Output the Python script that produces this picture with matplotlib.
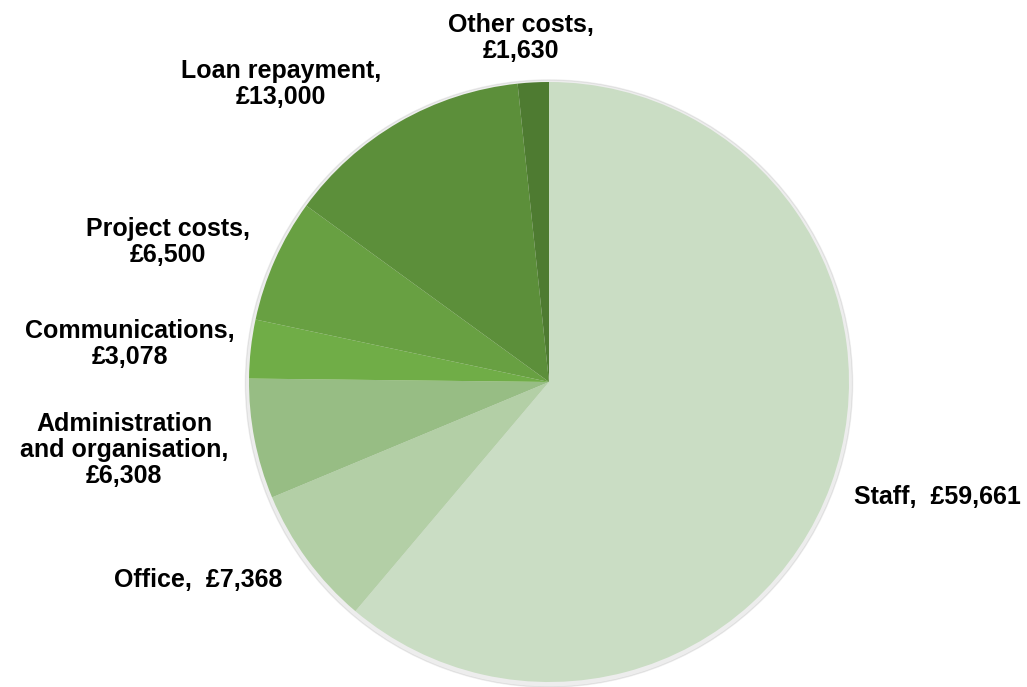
import numpy as np
import matplotlib.pyplot as plt

plt.rcParams['font.family'] = ['Liberation Sans', 'DejaVu Sans']

categories = ["Staff", "Office", "Administration\nand organisation", "Communications",
              "Project costs", "Loan repayment", "Other costs"]
values = [59661, 7368, 6308, 3078, 6500, 13000, 1630]
colors = ['#CADDC4', '#B3CFA6', '#97BD84', '#70AD47', '#68A042', '#5C8F3A', '#4E7B31']

# label text and pixel centres of the labels in the picture
label_text = ["Staff,  £59,661", "Office,  £7,368", "Administration\nand organisation,\n£6,308",
              "Communications,\n£3,078", "Project costs,\n£6,500", "Loan repayment,\n£13,000",
              "Other costs,\n£1,630"]
label_px = [(937, 497), (198, 580), (124, 450), (130, 344), (168, 242), (281, 84), (521, 38)]

W, H = 1027, 687
cx, cy, R = 549, 382, 300

fig = plt.figure(figsize=(W / 100, H / 100), dpi=100)
ax = fig.add_axes([(cx - R) / W, (H - cy - R) / H, 2 * R / W, 2 * R / H])

# faint shadow round the pie
shadow = plt.Circle((0.0, -0.005), 1.012, color='#000000', alpha=0.07, zorder=0,
                    clip_on=False)
ax.add_patch(shadow)

ax.pie(values, colors=colors, startangle=90, counterclock=False, radius=1,
       wedgeprops=dict(linewidth=0, zorder=1))

for txt, (px, py) in zip(label_text, label_px):
    ax.text((px - cx) / R, (cy - py) / R, txt, ha='center', va='center',
            fontsize=18, fontweight='bold', linespacing=1.1, color='black')

ax.set_xlim(-1, 1)
ax.set_ylim(-1, 1)
ax.set_aspect('equal')
ax.axis('off')

fig.savefig("out.png", dpi=100)
